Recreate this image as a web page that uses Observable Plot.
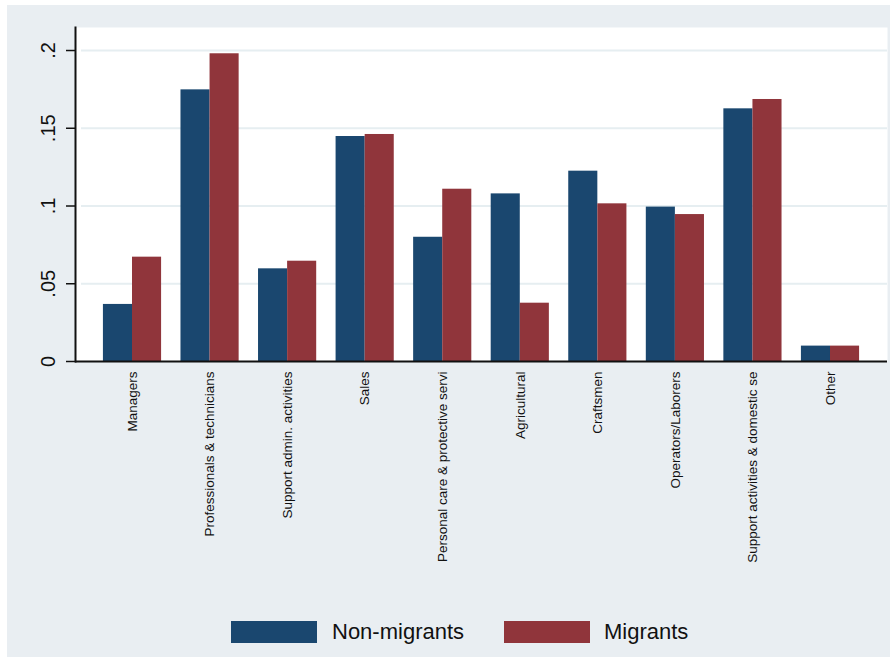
<!DOCTYPE html>
<html>
<head>
<meta charset="utf-8">
<script src="https://cdn.jsdelivr.net/npm/d3@7"></script>
<script src="https://cdn.jsdelivr.net/npm/@observablehq/plot@0.6"></script>
<style>
  html, body { margin: 0; padding: 0; background: #ffffff; }
  #page { position: relative; width: 894px; height: 658px; overflow: hidden; font-family: "Liberation Sans", Arial, sans-serif; }
  #panel { position: absolute; left: 7px; top: 5px; width: 883px; height: 652px; background: #e9eef2; }
  #chart { position: absolute; left: 0; top: 0; }
  #legend { position: absolute; left: 0; top: 621px; width: 894px; height: 22px; }
  .sw { position: absolute; top: 0; width: 86px; height: 22px; }
  .lab { position: absolute; top: -2px; font-size: 22px; line-height: 26px; color: #111; }
</style>
</head>
<body>
<div id="page">
  <div id="panel"></div>
  <div id="chart"></div>
  <div id="legend"></div>
</div>
<script>
const categories = [
  "Managers",
  "Professionals & technicians",
  "Support admin. activities",
  "Sales",
  "Personal care & protective servi",
  "Agricultural",
  "Craftsmen",
  "Operators/Laborers",
  "Support activities & domestic se",
  "Other"
];
const nonMigrants = [0.0367, 0.1747, 0.0596, 0.1447, 0.0799, 0.1078, 0.1224, 0.0993, 0.1625, 0.0099];
const migrants    = [0.0671, 0.1979, 0.0645, 0.1460, 0.1108, 0.0375, 0.1014, 0.0945, 0.1685, 0.0099];
const seriesNames = ["Non-migrants", "Migrants"];
const seriesColors = ["#1a476f", "#90353b"];
const yTicks = [0, 0.05, 0.1, 0.15, 0.2];
const yTickLabels = ["0", ".05", ".1", ".15", ".2"];

const W = 894, H = 600;
const mL = 75, mR = 7, mT = 27, mB = 239;
const padInner = 0.25, padOuter = 0.36;
const step = (W - mL - mR) / (categories.length - padInner + 2 * padOuter);
const half = step * (1 - padInner) / 2;

const rows = [];
categories.forEach((c, i) => {
  rows.push({cat: c, series: seriesNames[0], value: nonMigrants[i]});
  rows.push({cat: c, series: seriesNames[1], value: migrants[i]});
});

const chart = Plot.plot({
  width: W,
  height: H,
  marginLeft: mL,
  marginRight: mR,
  marginTop: mT,
  marginBottom: mB,
  style: {background: "transparent", fontFamily: "Liberation Sans, Arial, sans-serif"},
  x: {domain: categories, paddingInner: padInner, paddingOuter: padOuter, round: false, axis: null},
  y: {domain: [0, 0.2148], axis: null},
  color: {domain: seriesNames, range: seriesColors},
  marks: [
    Plot.frame({fill: "#ffffff", stroke: null}),
    Plot.gridY(yTicks.slice(1), {stroke: "#e6eef1", strokeOpacity: 1, strokeWidth: 2, insetLeft: 6}),
    Plot.barY(rows.filter(d => d.series === seriesNames[0]), {x: "cat", y: "value", fill: seriesColors[0], insetLeft: 0, insetRight: half}),
    Plot.barY(rows.filter(d => d.series === seriesNames[1]), {x: "cat", y: "value", fill: seriesColors[1], insetLeft: half, insetRight: 0}),
    Plot.axisY({ticks: yTicks, tickSize: 9, tickFormat: () => "", stroke: "#111", strokeWidth: 1.5, label: null}),
    Plot.frame({anchor: "left", stroke: "#111", strokeWidth: 2}),
    Plot.ruleY([0], {stroke: "#111", strokeWidth: 2}),
    Plot.text(yTicks, {
      y: d => d,
      text: (d, i) => yTickLabels[i],
      frameAnchor: "left",
      dx: -27,
      rotate: -90,
      textAnchor: "middle",
      lineAnchor: "middle",
      fontSize: 20,
      fill: "#111"
    }),
    Plot.text(categories, {
      x: d => d,
      text: d => d,
      frameAnchor: "bottom",
      dy: 10,
      rotate: -90,
      textAnchor: "end",
      lineAnchor: "middle",
      fontSize: 13.5,
      fill: "#111"
    })
  ]
});
document.getElementById("chart").appendChild(chart);

const legend = document.getElementById("legend");
const legendPos = [{sw: 231, lab: 332}, {sw: 504, lab: 604}];
seriesNames.forEach((name, i) => {
  const s = document.createElement("div");
  s.className = "sw";
  s.style.left = legendPos[i].sw + "px";
  s.style.background = seriesColors[i];
  legend.appendChild(s);
  const t = document.createElement("div");
  t.className = "lab";
  t.style.left = legendPos[i].lab + "px";
  t.textContent = name;
  legend.appendChild(t);
});
</script>
</body>
</html>
